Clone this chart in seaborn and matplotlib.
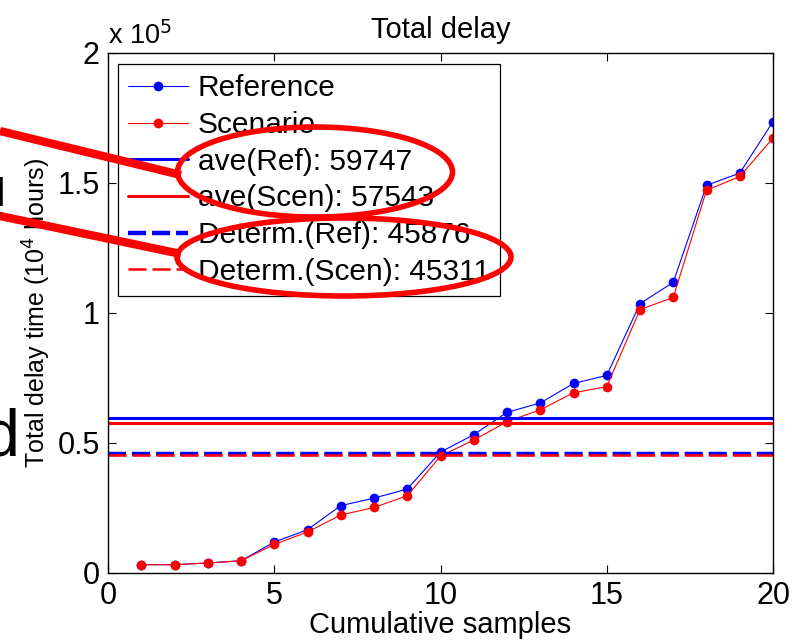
import numpy as np
import pandas as pd
import matplotlib
matplotlib.use("Agg")
import matplotlib.pyplot as plt
import seaborn as sns
from matplotlib.patches import Ellipse
from matplotlib.lines import Line2D
from matplotlib.ticker import FuncFormatter

# ---- data ----
samples = list(range(1, 21))
reference = [3200, 3200, 3850, 4700, 11900, 16650, 25900, 28800, 32300, 46500,
             53200, 61800, 65400, 72900, 76000, 103600, 111800, 149100, 153800, 173600]
scenario = [3200, 3200, 3850, 4700, 11000, 15800, 22300, 25200, 29700, 45000,
            51100, 58200, 62800, 69300, 71700, 101300, 106000, 147200, 152500, 167300]
ave_ref = 59747
ave_scen = 57543
determ_ref = 45876
determ_scen = 45311

x_ticks = [0, 5, 10, 15, 20]
y_ticks = [0, 50000, 100000, 150000, 200000]

# ---- style ----
sns.set_theme(style="ticks")
plt.rcParams["font.family"] = ["Liberation Sans", "DejaVu Sans"]
plt.rcParams["text.color"] = "black"
plt.rcParams["axes.labelcolor"] = "black"
plt.rcParams["lines.scale_dashes"] = False

W, H = 802, 644
fig = plt.figure(figsize=(W / 100, H / 100), dpi=100)
ax = fig.add_axes([108 / W, 1 - 573 / H, (773 - 108) / W, (573 - 53) / H])

df = pd.DataFrame({"sample": samples, "Reference": reference, "Scenario": scenario})

sns.lineplot(data=df, x="sample", y="Reference", ax=ax, color="#0000ff", marker="o",
             markersize=7, markeredgewidth=0, linewidth=0.8, label="Reference")
sns.lineplot(data=df, x="sample", y="Scenario", ax=ax, color="#ff0000", marker="o",
             markersize=7, markeredgewidth=0, linewidth=0.8, label="Scenario")

ax.axhline(ave_ref, color="#0000ff", linewidth=2.2, label=f"ave(Ref): {ave_ref}")
ax.axhline(ave_scen, color="#ff0000", linewidth=2.2, label=f"ave(Scen): {ave_scen}")
ax.axhline(determ_ref, color="#0000ff", linewidth=3.2, dashes=(13, 4.3),
           label=f"Determ.(Ref): {determ_ref}")
ax.axhline(determ_scen, color="#ff0000", linewidth=1.8, dashes=(13, 4.3),
           label=f"Determ.(Scen): {determ_scen}")

ax.set_xlim(0, 20)
ax.set_ylim(0, 200000)
ax.set_xticks(x_ticks)
ax.set_yticks(y_ticks)
ax.yaxis.set_major_formatter(FuncFormatter(lambda v, p: f"{v / 1e5:g}"))
ax.tick_params(direction="in", length=6, width=0.8, top=True, right=True,
               labelsize=22, pad=6, colors="black")
for s in ax.spines.values():
    s.set_visible(True)
    s.set_linewidth(1.0)
    s.set_color("black")

ax.set_xlabel("Cumulative samples", fontsize=21, labelpad=0)
ax.set_ylabel("Total delay time (10$^4$ hours)", fontsize=18, labelpad=3)
ax.set_title("Total delay", fontsize=21, pad=11)
fig.text(108 / W, 1 - 44 / H, "x 10$^5$", fontsize=19.5, ha="left", va="baseline")

leg = ax.legend(loc="upper left", bbox_to_anchor=(10 / 665, 1 - 11 / 520),
                fontsize=21.5, frameon=True, fancybox=False, framealpha=1,
                edgecolor="black", handlelength=2.0, handletextpad=0.32,
                labelspacing=0.29, borderpad=0.35, borderaxespad=0)
leg.get_frame().set_linewidth(0.9)

# ---- callout overlays ----
def fx(px):
    return px / W


def fy(py):
    return 1 - py / H


red = "#ff0000"
for (x0, y0, x1, y1) in [(0, 131, 181, 175), (0, 216, 181, 254)]:
    fig.add_artist(Line2D([fx(x0), fx(x1)], [fy(y0), fy(y1)], color=red,
                          linewidth=6, solid_capstyle="butt",
                          transform=fig.transFigure))
for (cx, cy, w, h) in [(315, 172, 275, 90), (344, 257, 334, 78)]:
    fig.add_artist(Ellipse((fx(cx), fy(cy)), w / W, h / H, fill=False,
                           edgecolor=red, linewidth=4, transform=fig.transFigure))

fig.text(fx(-8), fy(218), "!", fontsize=43, ha="left", va="baseline", zorder=0)
fig.text(fx(-18), fy(455), "d", fontsize=48, ha="left", va="baseline")

fig.savefig("out.png", dpi=100)
